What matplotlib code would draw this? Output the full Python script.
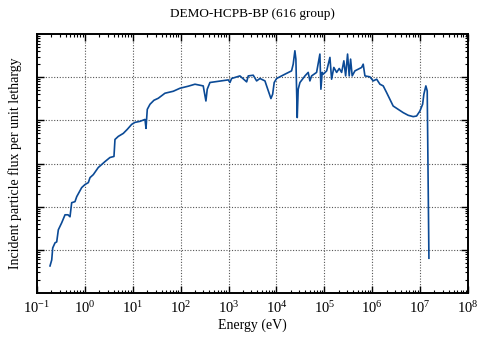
#!/usr/bin/env python3

import numpy as np
import matplotlib
matplotlib.use("Agg")
import matplotlib.pyplot as plt
from matplotlib.ticker import LogLocator, NullFormatter


# group flux per unit lethargy (arbitrary units)
energy_ev = [
    0.187, 0.203, 0.213, 0.238, 0.258, 0.279, 0.328, 0.385, 0.444, 0.489,
    0.530, 0.621, 0.675, 0.857, 1.00, 1.18, 1.28, 1.50, 1.90, 2.63,
    3.34, 4.05, 4.25, 4.98, 6.34, 7.67, 9.48, 11.1, 14.1, 18.0,
    18.9, 19.5, 20.1, 22.9, 27.7, 34.1, 47.0, 70.1, 96.7, 144,
    199, 296, 337, 359, 409, 986, 1070, 1160, 1730, 2390,
    2580, 3280, 3860, 4530, 5760, 6240, 7680, 8340, 8990, 1.01e4,
    1.50e4, 2.07e4, 2.24e4, 2.43e4, 2.55e4, 2.72e4, 2.85e4, 3.10e4, 3.94e4, 4.61e4,
    5.00e4, 5.43e4, 6.90e4, 8.09e4, 8.49e4, 9.04e4, 9.49e4, 1.12e5, 1.31e5, 1.42e5,
    1.58e5, 1.81e5, 2.05e5, 2.30e5, 2.56e5, 2.79e5, 3.06e5, 3.31e5, 3.54e5, 3.82e5,
    4.36e5, 5.10e5, 6.01e5, 6.49e5, 7.05e5, 8.95e5, 1.05e6, 1.24e6, 1.45e6, 1.70e6,
    2.00e6, 2.34e6, 2.74e6, 3.49e6, 4.44e6, 5.65e6, 7.18e6, 8.45e6, 9.91e6, 1.13e7,
    1.20e7, 1.32e7, 1.41e7, 1.44e7, 1.53e7,
]

flux = [
    4.25e8, 5.85e8, 1.11e9, 1.46e9, 1.53e9, 2.92e9, 4.25e9, 6.5e9, 6.5e9, 5.85e9,
    1.24e10, 1.31e10, 1.71e10, 2.77e10, 3.25e10, 3.62e10, 4.72e10, 5.54e10, 8.07e10, 1.11e11,
    1.38e11, 1.46e11, 3.61e11, 4.25e11, 4.99e11, 6.18e11, 8.07e11, 8.98e11, 9.48e11, 1.05e12,
    6.52e11, 1.11e12, 1.80e12, 2.36e12, 2.92e12, 3.25e12, 4.25e12, 4.72e12, 5.54e12, 6.18e12,
    6.87e12, 6.28e12, 2.81e12, 5.26e12, 7.53e12, 8.65e12, 7.53e12, 9.33e12, 1.07e13, 7.78e12,
    1.07e13, 1.11e13, 8.20e12, 9.33e12, 8.20e12, 6.28e12, 3.20e12, 4.03e12, 7.53e12, 9.33e12,
    1.17e13, 1.40e13, 2.00e13, 4.09e13, 2.62e13, 1.16e12, 5.26e12, 7.53e12, 1.07e13, 1.29e13,
    8.20e12, 1.07e13, 1.29e13, 3.43e13, 5.26e12, 1.29e13, 1.17e13, 1.40e13, 2.87e13, 8.98e12,
    1.68e13, 1.29e13, 1.59e13, 1.29e13, 2.39e13, 1.07e13, 3.43e13, 1.07e13, 2.62e13, 1.07e13,
    1.40e13, 1.53e13, 1.68e13, 2.00e13, 1.07e13, 1.02e13, 8.20e12, 8.98e12, 6.87e12, 6.28e12,
    4.40e12, 3.08e12, 2.15e12, 1.80e12, 1.51e12, 1.31e12, 1.22e12, 1.26e12, 1.64e12, 2.36e12,
    4.03e12, 6.28e12, 4.80e12, 4.72e11, 6.41e8,
]

x_ticks = [1e-1, 1e0, 1e1, 1e2, 1e3, 1e4, 1e5, 1e6, 1e7, 1e8]
y_grid = [1e9, 1e10, 1e11, 1e12, 1e13]


def main():
    plt.rcParams.update(
        {
            "font.family": "Liberation Serif",
            "mathtext.fontset": "stix",
            "font.size": 10,
        }
    )

    fig = plt.figure(figsize=(4.78, 3.40), dpi=100)
    ax = fig.add_axes([0.0774, 0.138, 0.9016, 0.762])

    ax.plot(energy_ev, flux, color="#0b4a96", linewidth=1.2)

    ax.set_xscale("log")
    ax.set_yscale("log")
    ax.set_xlim(1e-1, 1e8)
    ax.set_ylim(1e8, 1e14)

    ax.set_xticks(x_ticks)
    ax.xaxis.set_minor_locator(LogLocator(base=10, subs=np.arange(2, 10)))
    ax.xaxis.set_minor_formatter(NullFormatter())
    ax.set_yticks(y_grid)
    ax.yaxis.set_minor_locator(LogLocator(base=10, subs=np.arange(2, 10)))
    ax.yaxis.set_major_formatter(NullFormatter())
    ax.yaxis.set_minor_formatter(NullFormatter())

    for x in x_ticks[1:-1]:
        ax.axvline(x, color="#555555", linestyle=(0, (1, 1.5)), linewidth=0.8, zorder=0)
    for y in y_grid:
        ax.axhline(y, color="#555555", linestyle=(0, (1, 1.5)), linewidth=0.8, zorder=0)

    ax.tick_params(axis="both", which="major", direction="in", top=True, right=True,
                   length=5, width=1.0, labelsize=10.5, pad=5)
    ax.tick_params(axis="both", which="minor", direction="in", top=True, right=True,
                   length=2.5, width=0.8)
    for spine in ax.spines.values():
        spine.set_linewidth(1.4)

    ax.set_title("DEMO-HCPB-BP (616 group)", fontsize=9.5, pad=12)
    ax.set_xlabel("Energy (eV)", fontsize=10, labelpad=2)
    ax.set_ylabel("Incident particle flux per unit lethargy", fontsize=10, labelpad=6)

    fig.savefig("out.png", dpi=100)
    plt.close(fig)


if __name__ == "__main__":
    main()
